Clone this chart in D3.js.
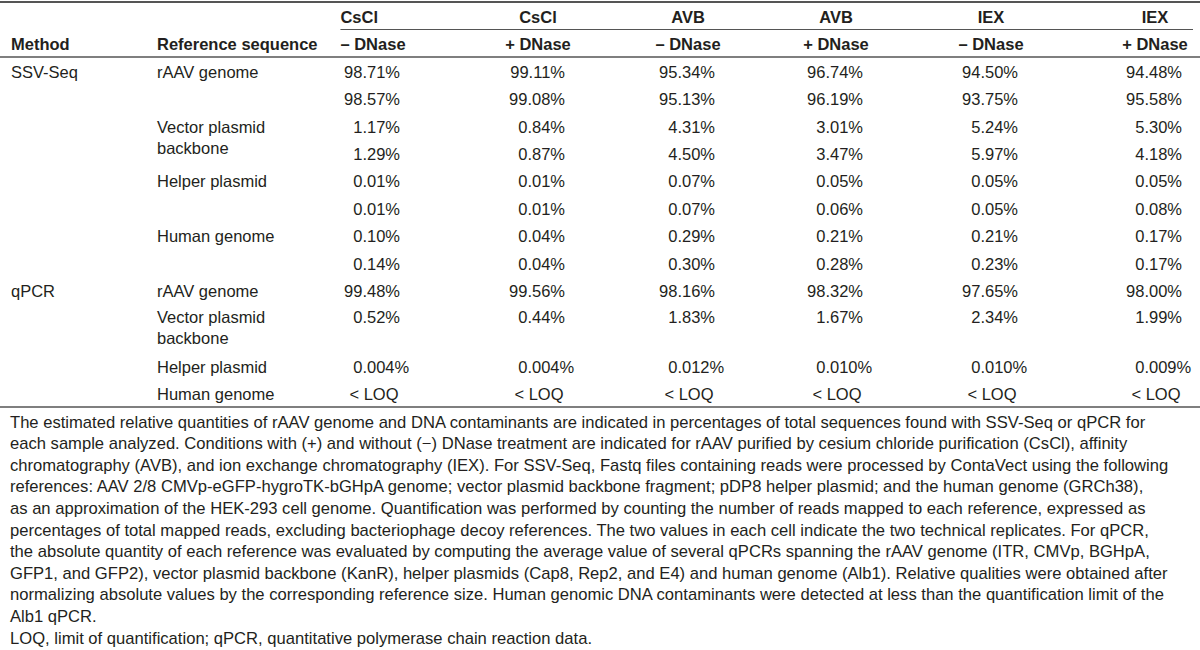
<!DOCTYPE html>
<html>
<head>
<meta charset="utf-8">
<script src="https://cdn.jsdelivr.net/npm/d3@7"></script>
<style>
  html, body { margin: 0; padding: 0; background: #ffffff; }
  svg { display: block; }
</style>
</head>
<body>
<div id="chart"></div>
<script>
// ---------------- DATA ----------------
const groupLabels = ["CsCl", "CsCl", "AVB", "AVB", "IEX", "IEX"];
const treatmentLabels = ["\u2013 DNase", "+ DNase", "\u2013 DNase", "+ DNase", "\u2013 DNase", "+ DNase"];
const columnKeys = ["CsCl-", "CsCl+", "AVB-", "AVB+", "IEX-", "IEX+"];
const headerLabels = ["Method", "Reference sequence"];
const methods = ["SSV-Seq", "qPCR"];
const references = ["rAAV genome", "Vector plasmid backbone", "Helper plasmid", "Human genome"];
const referenceLabelLines = [["rAAV genome"], ["Vector plasmid", "backbone"], ["Helper plasmid"], ["Human genome"]];

// SSV-Seq: two technical replicates per reference (percent)
const ssvRaavRep1   = [98.71, 99.11, 95.34, 96.74, 94.50, 94.48];
const ssvRaavRep2   = [98.57, 99.08, 95.13, 96.19, 93.75, 95.58];
const ssvVectorRep1 = [1.17, 0.84, 4.31, 3.01, 5.24, 5.30];
const ssvVectorRep2 = [1.29, 0.87, 4.50, 3.47, 5.97, 4.18];
const ssvHelperRep1 = [0.01, 0.01, 0.07, 0.05, 0.05, 0.05];
const ssvHelperRep2 = [0.01, 0.01, 0.07, 0.06, 0.05, 0.08];
const ssvHumanRep1  = [0.10, 0.04, 0.29, 0.21, 0.21, 0.17];
const ssvHumanRep2  = [0.14, 0.04, 0.30, 0.28, 0.23, 0.17];

// qPCR (percent); null = below limit of quantification
const qpcrRaav   = [99.48, 99.56, 98.16, 98.32, 97.65, 98.00];
const qpcrVector = [0.52, 0.44, 1.83, 1.67, 2.34, 1.99];
const qpcrHelper = [0.004, 0.004, 0.012, 0.010, 0.010, 0.009];
const qpcrHuman  = [null, null, null, null, null, null];
const belowLOQLabel = "< LOQ";

const footnoteLines = [
  "The estimated relative quantities of rAAV genome and DNA contaminants are indicated in percentages of total sequences found with SSV-Seq or qPCR for",
  "each sample analyzed. Conditions with (+) and without (\u2212) DNase treatment are indicated for rAAV purified by cesium chloride purification (CsCl), affinity",
  "chromatography (AVB), and ion exchange chromatography (IEX). For SSV-Seq, Fastq files containing reads were processed by ContaVect using the following",
  "references: AAV 2/8 CMVp-eGFP-hygroTK-bGHpA genome; vector plasmid backbone fragment; pDP8 helper plasmid; and the human genome (GRCh38),",
  "as an approximation of the HEK-293 cell genome. Quantification was performed by counting the number of reads mapped to each reference, expressed as",
  "percentages of total mapped reads, excluding bacteriophage decoy references. The two values in each cell indicate the two technical replicates. For qPCR,",
  "the absolute quantity of each reference was evaluated by computing the average value of several qPCRs spanning the rAAV genome (ITR, CMVp, BGHpA,",
  "GFP1, and GFP2), vector plasmid backbone (KanR), helper plasmids (Cap8, Rep2, and E4) and human genome (Alb1). Relative qualities were obtained after",
  "normalizing absolute values by the corresponding reference size. Human genomic DNA contaminants were detected at less than the quantification limit of the",
  "Alb1 qPCR."
];
const footnoteAbbrev = "LOQ, limit of quantification; qPCR, quantitative polymerase chain reaction data.";

// ---------------- TABLE STRUCTURE ----------------
const tableRows = [
  { method: methods[0], ref: 0, values: [ssvRaavRep1, ssvRaavRep2], decimals: 2 },
  { method: null,       ref: 1, values: [ssvVectorRep1, ssvVectorRep2], decimals: 2 },
  { method: null,       ref: 2, values: [ssvHelperRep1, ssvHelperRep2], decimals: 2 },
  { method: null,       ref: 3, values: [ssvHumanRep1, ssvHumanRep2], decimals: 2 },
  { method: methods[1], ref: 0, values: [qpcrRaav], decimals: 2 },
  { method: null,       ref: 1, values: [qpcrVector], decimals: 2 },
  { method: null,       ref: 2, values: [qpcrHelper], decimals: 3 },
  { method: null,       ref: 3, values: [qpcrHuman], decimals: 2 }
];

let lineCursor = 0;
tableRows.forEach(r => {
  r.line = lineCursor;
  lineCursor += Math.max(r.values.length, referenceLabelLines[r.ref].length);
});

// ---------------- LAYOUT ----------------
const W = 1200, H = 650;
const FONT = '"Liberation Sans", Arial, Helvetica, sans-serif';
const FS = 16.5;
const FOOT_FS = 16.6;
const TEXT = "#231f20";
const RULE = "#555555";

const svg = d3.select("#chart").append("svg")
  .attr("width", W).attr("height", H)
  .attr("font-family", FONT)
  .style("background", "#fff");

// line index -> baseline y (piecewise: SSV-Seq block, then qPCR block)
const yLine = d3.scaleLinear()
  .domain([0, 7, 8, 9, 11, 12])
  .range([78, 269.5, 297, 323, 373, 400]);

// column -> right edge of a two-decimal value
const xCol = d3.scaleOrdinal().domain(columnKeys)
  .range([400, 565, 715, 863, 1018, 1182]);
const xMethod = 11, xRef = 157;
const digitW = 0.556 * FS;
const labelLineGap = 21;

// rules
const ruleG = svg.append("g").attr("stroke", RULE).attr("fill", "none");
ruleG.append("line").attr("x1", 0).attr("x2", W).attr("y1", 2).attr("y2", 2).attr("stroke-width", 2);
ruleG.append("line").attr("x1", 0).attr("x2", W).attr("y1", 57).attr("y2", 57).attr("stroke-width", 1.6);
ruleG.append("line").attr("x1", 0).attr("x2", W).attr("y1", 407).attr("y2", 407).attr("stroke-width", 1.6);

// headers
const hdr = svg.append("g").attr("font-weight", "bold").attr("fill", TEXT).attr("font-size", FS);
hdr.append("text").attr("x", xMethod).attr("y", 50).text(headerLabels[0]);
hdr.append("text").attr("x", xRef).attr("y", 50).text(headerLabels[1]);

const headerCenter = k => xCol(k) - 27;
const treat = hdr.selectAll("text.treat").data(columnKeys).join("text")
  .attr("class", "treat")
  .attr("x", k => headerCenter(k))
  .attr("y", 50)
  .attr("text-anchor", "middle")
  .text((k, i) => treatmentLabels[i]);

hdr.selectAll("text.group").data(columnKeys).join("text")
  .attr("class", "group")
  .attr("y", 22.5)
  .attr("text-anchor", (k, i) => i === 0 ? "start" : "middle")
  .attr("x", (k, i) => i === 0 ? treat.nodes()[0].getBBox().x : headerCenter(k))
  .text((k, i) => groupLabels[i]);

// group underline
const firstStart = treat.nodes()[0].getBBox().x;
ruleG.append("line").attr("x1", firstStart).attr("x2", 1193)
  .attr("y1", 29.5).attr("y2", 29.5).attr("stroke-width", 1);

// body
const body = svg.append("g").attr("fill", TEXT).attr("font-size", FS);
tableRows.forEach(r => {
  const y0 = yLine(r.line);
  if (r.method) body.append("text").attr("x", xMethod).attr("y", y0).text(r.method);
  const lab = body.append("text").attr("x", xRef).attr("y", y0);
  referenceLabelLines[r.ref].forEach((t, j) => {
    lab.append("tspan").attr("x", xRef).attr("dy", j === 0 ? 0 : labelLineGap).text(t);
  });
  const fmt = d3.format("." + r.decimals + "f");
  r.values.forEach((arr, li) => {
    const y = yLine(r.line + li);
    body.append("g").selectAll("text").data(arr).join("text")
      .attr("y", y)
      .attr("x", (v, i) => v === null ? xCol(columnKeys[i]) - 26 : xCol(columnKeys[i]) + (r.decimals - 2) * digitW)
      .attr("text-anchor", v => v === null ? "middle" : "end")
      .text(v => v === null ? belowLOQLabel : fmt(v) + "%");
  });
});

// footnote
const foot = svg.append("g").attr("fill", TEXT).attr("font-size", FOOT_FS);
const yFoot = d3.scaleLinear().domain([0, 1]).range([427.5, 449.1]);
foot.selectAll("text.fn").data(footnoteLines).join("text")
  .attr("class", "fn")
  .attr("x", 10)
  .attr("y", (d, i) => yFoot(i))
  .text(d => d);
foot.append("text").attr("x", 10).attr("y", yFoot(footnoteLines.length - 1) + 22.5).text(footnoteAbbrev);
</script>
</body>
</html>
